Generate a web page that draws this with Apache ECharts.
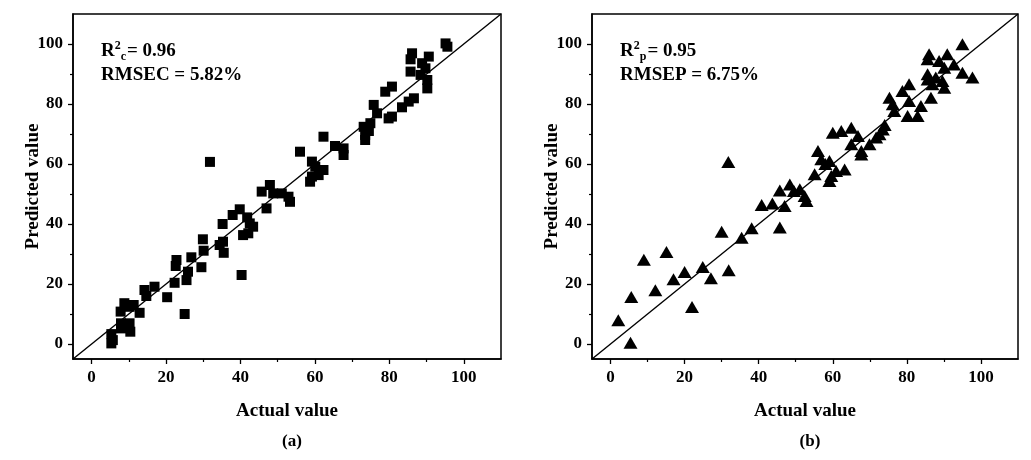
<!DOCTYPE html>
<html>
<head>
<meta charset="utf-8">
<script src="https://cdn.jsdelivr.net/npm/echarts@6/dist/echarts.min.js"></script>
<style>
  html, body { margin: 0; padding: 0; background: #fff; }
  #main { width: 1031px; height: 460px; }
</style>
</head>
<body>
<div id="main"></div>
<script>
// calibration set (a)
var calActual = [5.3, 5.7, 5.3, 7.8, 8.8, 7.9, 7.9, 10.2, 10.4, 10.2, 11.3, 12.9, 14.2, 14.7, 16.9,
  20.3, 22.3, 22.8, 22.6, 25, 25.5, 25.9, 26.8, 29.5, 29.9, 30.1, 31.8, 34.4, 35.3, 35.5,
  35.2, 37.9, 39.8, 40.3, 40.7, 41.8, 42.1, 42.5, 43.4, 45.7, 47, 47.9, 48.8, 51.1, 52.9,
  53.3, 56, 59.2, 60.1, 62.3, 62.3, 59.2, 58.7, 61, 65.4, 67.7, 67.7, 73.1, 73.5, 73.5,
  74.9, 75.8, 76.7, 78.9, 80.7, 79.8, 80.7, 83.4, 85.2, 86.6, 85.7, 86.1, 85.7, 88.8, 90.6,
  89.7, 88.4, 90.2, 90.2, 95.1, 95.6, 74.5];
var calPredicted = [0.2, 1.3, 3.3, 10.8, 13.6, 6.9, 5.2, 6.9, 4.1, 12.4, 13, 10.4, 18, 16, 19.1,
  15.6, 20.4, 28, 26, 10, 21.3, 24.1, 28.9, 25.6, 34.9, 31.1, 60.7, 33, 34.1, 30.4,
  40, 43, 44.9, 23, 36.3, 42.2, 36.9, 40.2, 39.1, 50.8, 45.2, 53, 50.2, 50.2, 49.1,
  47.4, 64.1, 60.8, 59.1, 58, 69.1, 55.8, 54.1, 56.3, 66, 65.2, 63, 72.4, 69.7, 68,
  73.6, 79.7, 76.9, 84.1, 85.8, 75.2, 75.8, 78.9, 80.8, 81.9, 90.8, 96.9, 94.9, 93.6, 95.8,
  91.9, 89.7, 88, 85.2, 100.2, 99.1, 71];

// prediction set (b)
var predActual = [2.1, 5.4, 5.6, 9, 12.1, 15.1, 17, 20, 22, 24.9, 27.1, 30, 31.9, 31.8, 35.4,
  38.1, 40.8, 43.7, 45.7, 45.7, 47, 48.4, 51.1, 52.9, 52.4, 49.5, 55.1, 56, 56.9, 59.1,
  59.1, 59.6, 60.9, 63.2, 60, 62.3, 65, 66.8, 65, 67.7, 67.7, 69.9, 71.7, 72.6, 75.3,
  76.2, 76.6, 78.8, 80.6, 80.2, 82.9, 80.6, 83.8, 86.5, 85.6, 86, 85.6, 88.7, 90.9, 90.1,
  85.6, 87.8, 89.6, 90.1, 92.7, 95, 95, 97.7, 86.9, 74, 58, 73.5];
var predPredicted = [7.9, 0.4, 15.7, 28.1, 17.9, 30.7, 21.6, 24, 12.3, 25.7, 21.9, 37.4, 24.6, 60.7, 35.4,
  38.6, 46.3, 46.8, 38.8, 51.2, 46, 53.2, 51.6, 47.7, 49.3, 51, 56.6, 64.3, 61.6, 61,
  54.3, 56, 57.7, 58.2, 70.4, 71, 72.1, 69.3, 66.6, 64.3, 63.2, 66.6, 68.8, 69.9, 82.1,
  79.9, 77.7, 84.3, 86.6, 76, 76, 81, 79.3, 82.1, 88.2, 96.6, 94.9, 94.3, 96.6, 92.1,
  89.9, 88.8, 87.7, 85.4, 93.2, 99.9, 90.4, 88.8, 86.6, 73, 60, 71.5];

var majorTicks = [0, 20, 40, 60, 80, 100];
var minorTicks = [10, 30, 50, 70, 90];
var axisMin = -5, axisMax = 110;

function zip(a, b) {
  var out = [];
  for (var i = 0; i < a.length; i++) out.push([a[i], b[i]]);
  return out;
}

var font = 'Liberation Serif';

function mainAxis(gridIndex, name, isX) {
  return {
    type: 'value', gridIndex: gridIndex, min: axisMin, max: axisMax,
    position: isX ? 'bottom' : 'left',
    name: name, nameLocation: 'middle', nameGap: isX ? 43 : 30, nameMoveOverlap: false,
    nameTextStyle: { fontFamily: font, fontWeight: 'bold', fontSize: 19, color: '#000' },
    axisLine: { show: true, onZero: false, lineStyle: { color: '#000', width: 1.5 } },
    axisTick: { show: true, customValues: majorTicks, length: 5, lineStyle: { color: '#000', width: 1.3 } },
    axisLabel: { customValues: majorTicks, margin: 10, fontFamily: font, fontWeight: 'bold', fontSize: 17, color: '#000' },
    splitLine: { show: false }
  };
}
function minorAxis(gridIndex, isX) {
  return {
    type: 'value', gridIndex: gridIndex, min: axisMin, max: axisMax,
    position: isX ? 'bottom' : 'left',
    axisLine: { show: false, onZero: false },
    axisTick: { show: true, customValues: minorTicks, length: 3, lineStyle: { color: '#000', width: 1.2 } },
    axisLabel: { show: false },
    splitLine: { show: false }
  };
}

var richStyle = {
  b: { fontFamily: font, fontWeight: 'bold', fontSize: 19, color: '#000', lineHeight: 24 },
  sup: { fontFamily: font, fontWeight: 'bold', fontSize: 12, color: '#000', lineHeight: 24, verticalAlign: 'top', padding: [1, 0, 0, 0] },
  sub: { fontFamily: font, fontWeight: 'bold', fontSize: 12, color: '#000', lineHeight: 24, verticalAlign: 'bottom', padding: [0, 1, 0, 0] }
};

var chart = echarts.init(document.getElementById('main'));
chart.setOption({
  animation: false,
  backgroundColor: '#fff',
  title: [
    { left: 96, top: 34, text: '{b|R}{sup|2}{sub|c}{b|= 0.96}\n{b|RMSEC = 5.82%}', textStyle: { rich: richStyle } },
    { left: 615, top: 34, text: '{b|R}{sup|2}{sub|p}{b|= 0.95}\n{b|RMSEP = 6.75%}', textStyle: { rich: richStyle } },
    { left: 287, top: 428, textAlign: 'center', text: '(a)', textStyle: { fontFamily: font, fontWeight: 'bold', fontSize: 17, color: '#000' } },
    { left: 805, top: 428, textAlign: 'center', text: '(b)', textStyle: { fontFamily: font, fontWeight: 'bold', fontSize: 17, color: '#000' } }
  ],
  grid: [
    { left: 73, top: 14, width: 428, height: 345, show: true, borderColor: '#000', borderWidth: 1.5, backgroundColor: 'transparent' },
    { left: 592, top: 14, width: 426, height: 345, show: true, borderColor: '#000', borderWidth: 1.5, backgroundColor: 'transparent' }
  ],
  xAxis: [mainAxis(0, 'Actual value', true), minorAxis(0, true), mainAxis(1, 'Actual value', true), minorAxis(1, true)],
  yAxis: [mainAxis(0, 'Predicted value', false), minorAxis(0, false), mainAxis(1, 'Predicted value', false), minorAxis(1, false)],
  series: [
    { type: 'line', xAxisIndex: 0, yAxisIndex: 0, data: [[axisMin, axisMin], [axisMax, axisMax]], showSymbol: false, silent: true,
      lineStyle: { color: '#000', width: 1.4 } },
    { type: 'scatter', xAxisIndex: 0, yAxisIndex: 0, data: zip(calActual, calPredicted), symbol: 'rect', symbolSize: 10,
      itemStyle: { color: '#000', opacity: 1 } },
    { type: 'line', xAxisIndex: 2, yAxisIndex: 2, data: [[axisMin, axisMin], [axisMax, axisMax]], showSymbol: false, silent: true,
      lineStyle: { color: '#000', width: 1.4 } },
    { type: 'scatter', xAxisIndex: 2, yAxisIndex: 2, data: zip(predActual, predPredicted), symbol: 'triangle', symbolSize: [14, 12],
      itemStyle: { color: '#000', opacity: 1 } }
  ]
});
</script>
</body>
</html>
